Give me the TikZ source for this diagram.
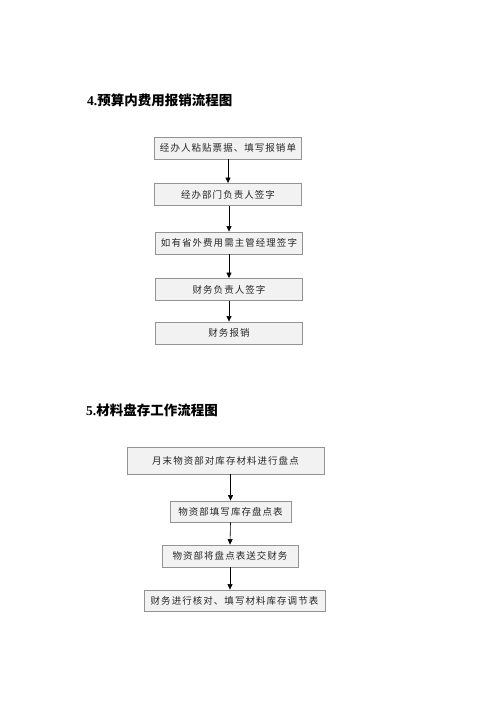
\documentclass[tikz,border=0pt]{standalone}
\usepackage{fontspec}
\setmainfont{Liberation Serif}
\newfontfamily\cjk{Noto Sans CJK SC}
\newfontfamily\cjkbox[LetterSpace=11]{Noto Sans CJK SC}
\usetikzlibrary{arrows.meta,positioning}

\tikzset{
  stepbox/.style={draw=gray!85,line width=0.9pt,fill=gray!10,inner sep=0pt,
    minimum height=22pt,font=\cjkbox\fontsize{9.5}{11}\selectfont,text=black!85},
  flowarr/.style={-{Triangle[length=5.5pt,width=5pt]},line width=0.6pt},
  heading/.style={anchor=west,inner sep=0pt,font=\fontsize{13.5}{15}\selectfont\bfseries}
}

\begin{document}
\begin{tikzpicture}[x=1pt,y=-1pt]
\useasboundingbox (0,0) rectangle (500,707);

% 4. budget reimbursement
\node[heading] (t1) at (87,100) {4.{\cjk 预算内费用报销流程图}};
\node[stepbox,minimum width=147pt] (a1) at (228,148) {经办人粘贴票据、填写报销单};
\node[stepbox,minimum width=147pt] (a2) at (228,194.5) {经办部门负责人签字};
\node[stepbox,minimum width=147pt] (a3) at (229,243) {如有省外费用需主管经理签字};
\node[stepbox,minimum width=147pt] (a4) at (229,289.5) {财务负责人签字};
\node[stepbox,minimum width=147pt] (a5) at (229,333) {财务报销};
\draw[flowarr] (a1.south -| a2.north) -- (a2.north);
\draw[flowarr] (a2.south -| a3.north) -- (a3.north);
\draw[flowarr] (a3.south) -- (a4.north);
\draw[flowarr] (a4.south) -- (a5.north);

% 5. stock taking
\node[heading] (t2) at (86,410) {5.{\cjk 材料盘存工作流程图}};
\node[stepbox,minimum width=197pt,minimum height=27pt] (b1) at (225.5,460.5) {月末物资部对库存材料进行盘点};
\node[stepbox,minimum width=121pt,minimum height=21pt] (b2) at (230.5,511.5) {物资部填写库存盘点表};
\node[stepbox,minimum width=136pt] (b3) at (230,556) {物资部将盘点表送交财务};
\node[stepbox,minimum width=181pt,minimum height=21pt] (b4) at (234.5,600.5) {财务进行核对、填写材料库存调节表};
\draw[flowarr] (b1.south -| b2.north) -- (b2.north);
\draw[flowarr] (b2.south) -- (b3.north);
\draw[flowarr] (b3.south) -- (b3.south |- b4.north);
\end{tikzpicture}
\end{document}
